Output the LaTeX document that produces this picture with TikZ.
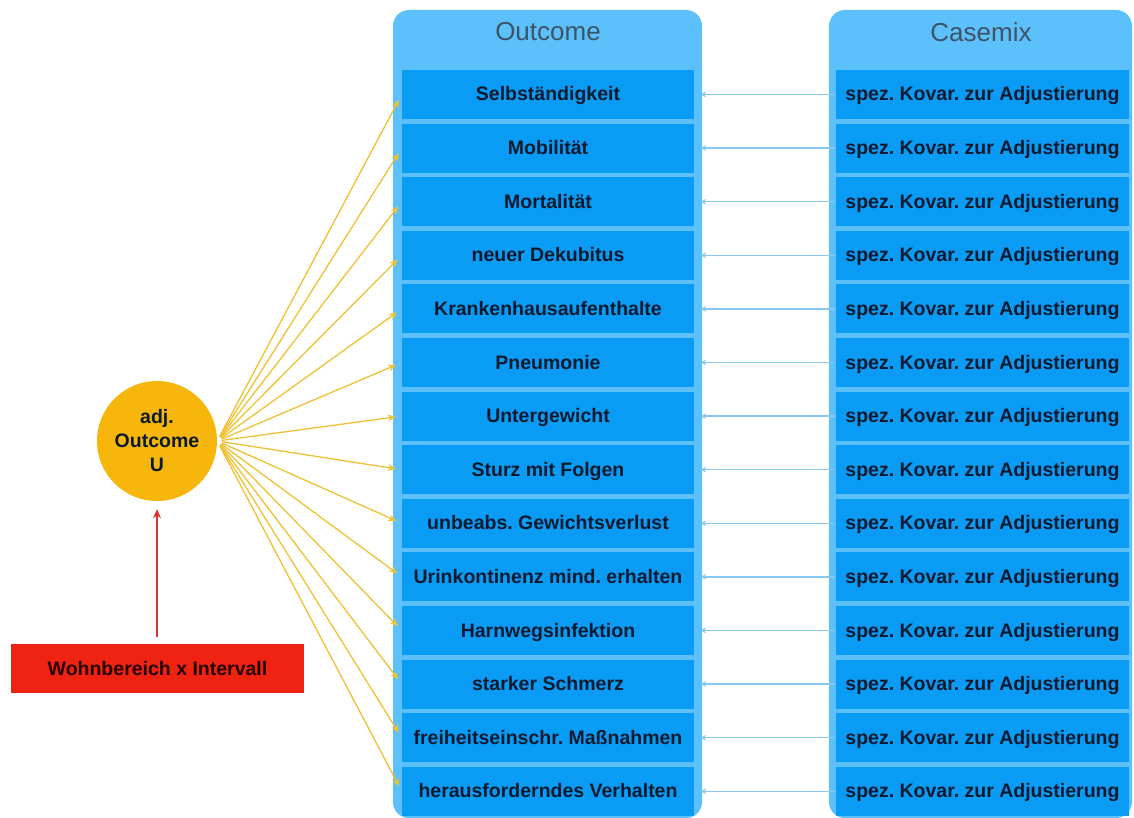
\documentclass[tikz,border=0pt]{standalone}
\usepackage{fontspec}
\setmainfont{Liberation Sans}
\usetikzlibrary{arrows.meta}
\frenchspacing
\definecolor{panelblue}{HTML}{5CC0FA}
\definecolor{boxblue}{HTML}{0A9BF5}
\definecolor{titlegray}{HTML}{3E5366}
\definecolor{boxtext}{HTML}{0B1A2E}
\definecolor{goldfill}{HTML}{F6B60C}
\definecolor{goldline}{HTML}{EFC234}
\definecolor{redfill}{HTML}{EE2311}
\definecolor{redline}{HTML}{D9342B}
\definecolor{linkblue}{HTML}{86C8F0}
\tikzset{
  panel/.style={fill=panelblue, draw=none, rounded corners=16pt},
  paneltitle/.style={text=titlegray, font=\fontsize{26}{30}\selectfont, inner sep=0pt},
  rowbox/.style={fill=boxblue, draw=none, minimum height=49pt, inner sep=0pt,
    text height=14pt, text depth=1pt,
    text=boxtext, font=\bfseries\fontsize{19.5}{23}\selectfont},
  obox/.style={rowbox, minimum width=292pt},
  cbox/.style={rowbox, minimum width=293pt},
  goldarrow/.style={draw=goldline, line width=1.3pt, -{Stealth[length=8pt,width=7pt]}},
  bluearrow/.style={draw=linkblue, line width=1.3pt, -{Stealth[length=6pt,width=5.5pt]}},
  redarrow/.style={draw=redline, line width=1.3pt, -{Stealth[length=9pt,width=8pt]}},
}
\begin{document}
\begin{tikzpicture}[x=1pt,y=-1pt]
\useasboundingbox (0,0) rectangle (1134,818);
\fill[white] (0,0) rectangle (1134,818);
% panels
\path[panel] (393,10) rectangle (702,818);
\path[panel] (829,10) rectangle (1132,818);
\node[paneltitle] (otitle) at (548,32) {Outcome};
\node[paneltitle] (ctitle) at (981,32) {Casemix};
% rows
\foreach \lab [count=\i] in {Selbständigkeit, Mobilität, Mortalität, neuer Dekubitus,
  Krankenhausaufenthalte, Pneumonie, Untergewicht, Sturz mit Folgen,
  unbeabs. Gewichtsverlust, Urinkontinenz mind. erhalten, Harnwegsinfektion,
  starker Schmerz, freiheitseinschr. Maßnahmen, herausforderndes Verhalten}{
  \pgfmathsetmacro{\yy}{94.5+(\i-1)*53.6}
  \node[obox] (o\i) at (548,\yy) {\lab};
  \node[cbox] (c\i) at (982.5,\yy) {spez. Kovar. zur Adjustierung};
}
% circle
\node[circle, fill=goldfill, minimum size=120pt, inner sep=0pt, align=center,
  text=boxtext, font=\bfseries\fontsize{19.5}{24}\selectfont] (u) at (157,441) {adj.\\Outcome\\U};
% red box
\node[fill=redfill, minimum width=293pt, minimum height=49pt, inner sep=0pt,
  text height=14pt, text depth=1pt,
  text=black!85!red, font=\bfseries\fontsize{19.5}{23}\selectfont] (wb) at (157.5,668.5) {Wohnbereich x Intervall};
\draw[redarrow, shorten <=7pt, shorten >=8pt] (wb.north -| u.south) -- (u.south);
% connectors
\foreach \i in {1,...,14}{
  \draw[goldarrow, shorten <=5pt, shorten >=6pt] (u.east) -- (o\i.west);
  \draw[bluearrow, shorten <=1pt, shorten >=6pt] (c\i.west) -- (o\i.east);
}
\end{tikzpicture}
\end{document}
